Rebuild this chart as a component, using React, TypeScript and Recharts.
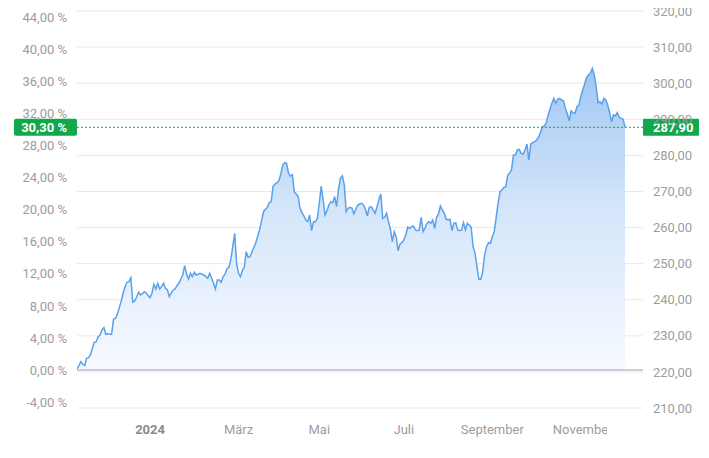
import React from "react";
import {
  AreaChart,
  Area,
  XAxis,
  YAxis,
  CartesianGrid,
  ReferenceLine,
} from "recharts";

// Performance in % (one value per trading day)
const perfNovJan: number[] = [
  0.12, 0.54, 1.04, 0.71, 0.54, 1.46, 1.54, 1.87, 2.71, 3.46, 3.53, 4.16, 4.37, 4.99, 5.28,
  4.46, 4.53, 4.46, 4.46, 6.37, 6.45, 6.95, 7.78, 8.61, 9.58, 10.4, 10.95, 11.02, 11.52,
  8.45, 8.61, 9.11, 9.7, 9.36, 9.53, 9.78, 9.61, 9.28, 9.03, 9.58, 10.7, 10.11, 10.82,
  10.11, 10.4, 10.82, 10.2, 9.99, 9.15, 9.58, 9.99, 10.11, 10.52, 10.82, 11.36, 11.86,
  13.02, 11.95, 11.36, 12.07, 11.65, 12.2, 11.86, 11.95, 12.07, 11.95, 11.86, 11.65,
  11.45, 12.07, 11.45, 10.82, 10.11, 11.24, 11.24, 10.95, 11.65, 11.95,
];
const perfFebMay: number[] = [
  12.65, 12.82, 13.82, 15.39, 17.07, 13.32, 12.07, 11.65, 12.4, 12.82, 14.77, 14.07,
  14.14, 14.77, 15.32, 15.89, 16.73, 17.57, 18.64, 19.76, 20.06, 20.31, 20.89, 21.01,
  22.97, 23.22, 23.38, 23.63, 24.47, 25.59, 25.88, 25.81, 24.56, 24.22, 24.38, 22.26,
  21.97, 21.64, 20.19, 19.64, 19.23, 18.73, 18.51, 19.35, 17.39, 18.51, 18.51, 18.94,
  20.81, 22.97, 21.22, 19.35, 19.89, 20.6, 21.01, 20.89, 21.64, 20.39, 22.56, 23.93,
  24.22, 23.1, 19.76, 20.19, 20.31, 20.19, 19.48, 20.06, 20.6, 20.72, 20.81, 20.6, 20.06,
];
const perfJunAug: number[] = [
  19.23, 20.31, 20.39, 19.98, 19.56, 20.31, 21.31, 21.97, 18.94, 19.06, 19.56, 18.51,
  17.57, 16.02, 17.27, 16.57, 14.89, 15.73, 15.89, 16.23, 16.85, 17.82, 17.69, 17.89,
  17.98, 17.48, 17.39, 17.48, 19.06, 17.27, 17.69, 18.31, 18.51, 18.31, 18.73, 17.69,
  19.06, 19.48, 20.47, 19.98, 19.56, 18.81, 18.73, 18.81, 17.39, 18.31, 18.39, 17.48,
  17.39, 17.48, 18.39, 17.48, 18.31, 18.1, 17.82, 15.39, 14.57, 12.9, 11.32, 11.32,
  12.27, 14.36, 15.39, 15.89, 15.82, 16.64, 17.27, 19.06,
];
const perfSepNov: number[] = [
  20.81, 22.26, 22.47, 22.81, 22.88, 24.34, 24.56, 25.06, 26.84, 26.84, 27.47, 27.55,
  27.05, 26.97, 27.47, 28.21, 26.22, 28.21, 28.38, 28.5, 28.71, 29.05, 29.63, 30.37,
  30.46, 30.8, 31.84, 32.55, 33.3, 33.92, 33.3, 33.8, 33.92, 33.71, 33.62, 32.67, 31.96,
  31.12, 32.37, 32.12, 32.05, 32.87, 33.08, 34.12, 34.96, 35.71, 36.54, 36.83, 37.04,
  37.66, 36.83, 35.37, 33.37, 33.5, 33.21, 33.92, 33.71, 33.08, 32.12, 31.0, 31.84,
  31.71, 32.12, 31.55, 31.42, 31.3, 30.3,
];

const lastPct = 30.3;
const lastPrice = 287.9;

// x-axis month ticks (trading-day index) and labels
const monthTickIndex: number[] = [38, 84, 126, 170, 216, 263];
const monthLabels: string[] = ["2024", "März", "Mai", "Juli", "September", "November"];

const pctTicks: number[] = [-4, 0, 4, 8, 12, 16, 20, 24, 28, 32, 36, 40, 44];
const priceTicks: number[] = [210, 220, 230, 240, 250, 260, 270, 280, 290, 300, 310, 320];

const perf = [...perfNovJan, ...perfFebMay, ...perfJunAug, ...perfSepNov];
const data = perf.map((pct, i) => ({ i, pct }));

const FONT = "Roboto, 'Noto Sans', sans-serif";
const TICK_COLOR = "#9d9d9d";
const GREEN = "#12a64d";

const fmtPct = (v: number) => v.toFixed(2).replace(".", ",") + " %";
const fmtPrice = (v: number) => v.toFixed(2).replace(".", ",");

const XTick = (props: any) => {
  const { x, y, payload } = props;
  const k = monthTickIndex.indexOf(payload.value);
  const label = k >= 0 ? monthLabels[k] : "";
  const isYear = k === 0;
  const clipId = "xclip-" + k;
  return (
    <g>
      <defs>
        <clipPath id={clipId}>
          <rect x={0} y={y - 20} width={607} height={60} />
        </clipPath>
      </defs>
      <text
        x={x}
        y={y}
        dy="0.71em"
        textAnchor="middle"
        fill={isYear ? "#8a8a8a" : TICK_COLOR}
        fontWeight={isYear ? 700 : 400}
        fontSize={13}
        fontFamily={FONT}
        clipPath={`url(#${clipId})`}
      >
        {label}
      </text>
    </g>
  );
};

const Badges = (props: any) => {
  const vb = props.viewBox || {};
  const left = vb.x;
  const right = vb.x + vb.width;
  const y = vb.y;
  return (
    <g>
      <rect x={left - 63} y={y - 8.5} width={63} height={17} rx={2} fill={GREEN} />
      <text
        x={left - 10}
        y={y}
        dy="0.36em"
        textAnchor="end"
        fill="#fff"
        fontWeight={700}
        fontSize={13}
        fontFamily={FONT}
      >
        {fmtPct(lastPct)}
      </text>
      <rect x={right} y={y - 8.5} width={56} height={17} rx={1} fill={GREEN} />
      <text
        x={right + 10}
        y={y}
        dy="0.36em"
        textAnchor="start"
        fill="#fff"
        fontWeight={700}
        fontSize={13}
        fontFamily={FONT}
      >
        {fmtPrice(lastPrice)}
      </text>
    </g>
  );
};

export default function App() {
  const n = data.length;
  const xMax = ((n - 1) * 566) / 548;
  return (
    <div style={{ fontFamily: FONT, marginTop: -8, marginLeft: -8 }}>
      <AreaChart
        width={709}
        height={458}
        data={data}
        margin={{ top: 11, right: 0, bottom: 0, left: 8 }}
      >
        <defs>
          <linearGradient id="perfFill" x1="0" y1="0" x2="0" y2="1">
            <stop offset="0%" stopColor="#a0c6f3" stopOpacity={1} />
            <stop offset="45%" stopColor="#d3e5fa" stopOpacity={1} />
            <stop offset="100%" stopColor="#f7faff" stopOpacity={1} />
          </linearGradient>
        </defs>
        <CartesianGrid
          yAxisId="price"
          vertical={false}
          stroke="#e9e9e9"
          strokeWidth={1}
        />
        <XAxis
          dataKey="i"
          type="number"
          domain={[0, xMax]}
          ticks={monthTickIndex}
          tick={<XTick />}
          tickLine={false}
          axisLine={false}
          tickSize={0}
          tickMargin={17}
          height={50}
          allowDataOverflow
        />
        <YAxis
          yAxisId="pct"
          orientation="left"
          type="number"
          domain={[-4.75, 44.82]}
          ticks={pctTicks}
          tickFormatter={fmtPct}
          tick={{ fill: TICK_COLOR, fontSize: 13, fontFamily: FONT }}
          tickLine={false}
          axisLine={false}
          tickSize={0}
          tickMargin={10}
          width={69}
          allowDataOverflow
          interval={0}
        />
        <YAxis
          yAxisId="price"
          orientation="right"
          type="number"
          domain={[210, 320]}
          ticks={priceTicks}
          tickFormatter={fmtPrice}
          tick={{ fill: TICK_COLOR, fontSize: 13, fontFamily: FONT, textAnchor: "start" }}
          tickLine={false}
          axisLine={false}
          tickSize={0}
          tickMargin={10}
          width={66}
          allowDataOverflow
          interval={0}
        />
        <Area
          yAxisId="pct"
          type="linear"
          dataKey="pct"
          stroke="#5aa1eb"
          strokeWidth={1.5}
          fill="url(#perfFill)"
          fillOpacity={1}
          baseValue={0}
          dot={false}
          activeDot={false}
          isAnimationActive={false}
        />
        <ReferenceLine yAxisId="pct" y={0} stroke="#979db0" strokeWidth={1} />
        <ReferenceLine
          yAxisId="pct"
          y={lastPct}
          stroke={GREEN}
          strokeWidth={1}
          strokeDasharray="2 2"
          label={<Badges />}
        />
      </AreaChart>
    </div>
  );
}
